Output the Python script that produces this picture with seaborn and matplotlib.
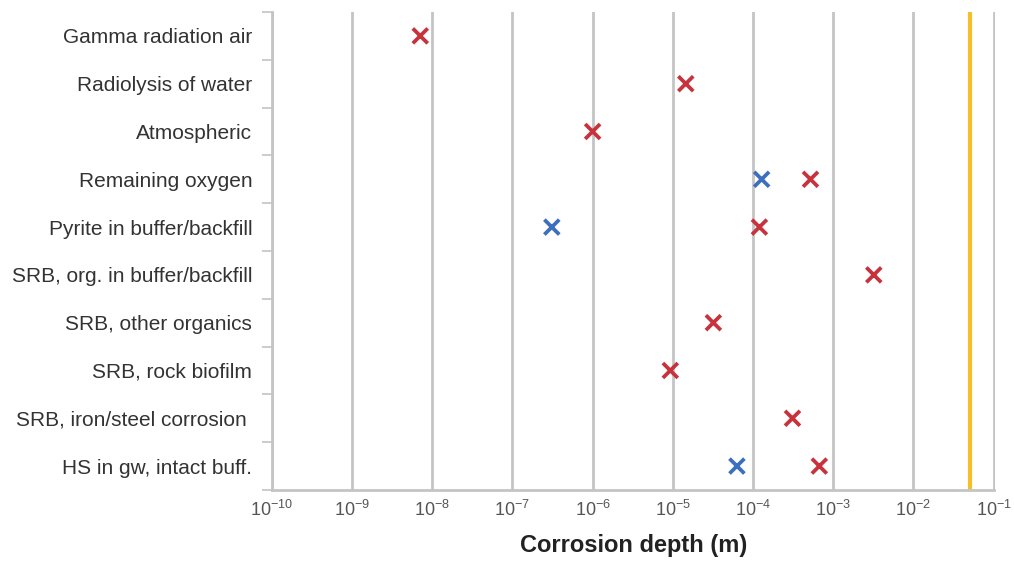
import numpy as np
import pandas as pd
import matplotlib
matplotlib.use('Agg')
import matplotlib.pyplot as plt
import seaborn as sns
from matplotlib.ticker import FixedLocator, NullFormatter

sns.set_style('white')
plt.rcParams['font.family'] = ['Liberation Sans', 'DejaVu Sans']
plt.rcParams['mathtext.fontset'] = 'custom'
plt.rcParams['mathtext.rm'] = 'Liberation Sans'

# ========================================
# 데이터
# ========================================
categories = [
    'Gamma radiation air',
    'Radiolysis of water',
    'Atmospheric',
    'Remaining oxygen',
    'Pyrite in buffer/backfill',
    'SRB, org. in buffer/backfill',
    'SRB, other organics',
    'SRB, rock biofilm',
    'SRB, iron/steel corrosion ',
    'HS in gw, intact buff.',
]
# 빨간 X (upper estimate)
red_values = [7.1e-9, 1.45e-5, 1.0e-6, 5.2e-4, 1.2e-4, 3.2e-3, 3.2e-5, 9.3e-6, 3.1e-4, 6.7e-4]
# 파란 X (lower estimate) - 일부 항목만
blue_cats = ['Remaining oxygen', 'Pyrite in buffer/backfill', 'HS in gw, intact buff.']
blue_values = [1.28e-4, 3.1e-7, 6.3e-5]
limit_depth = 0.05
decades = list(range(-10, 0))

RED = '#c8323c'
BLUE = '#3d6fbf'
YELLOW = '#f5bf2a'
GRID = '#c4c4c4'

df = pd.concat([
    pd.DataFrame({'cat': categories, 'depth': red_values, 'kind': 'red'}),
    pd.DataFrame({'cat': blue_cats, 'depth': blue_values, 'kind': 'blue'}),
])
df['pos'] = df['cat'].map({c: i for i, c in enumerate(categories)})

fig = plt.figure(figsize=(10.14, 5.63), dpi=100)
ax = fig.add_axes([0.268, 0.1297, 0.713, 0.849])

ax.set_xscale('log')
ax.set_xlim(1e-10, 1.03e-1)
ax.set_ylim(len(categories) - 0.5, -0.5)

# 세로 격자선
for k in decades:
    ax.axvline(10.0 ** k, color=GRID, lw=2, zorder=1)

ax.axvline(limit_depth, color=YELLOW, lw=3, zorder=2)

sns.scatterplot(data=df, x='depth', y='pos', hue='kind',
                palette={'red': RED, 'blue': BLUE}, marker='x',
                s=115, linewidth=2.7, legend=False, ax=ax, zorder=3)

ax.xaxis.set_minor_locator(FixedLocator([]))
ax.set_xticks([10.0 ** k for k in decades])
ax.set_xticklabels([f'$10^{{{k}}}$' for k in decades], color='#555555', fontsize=13)

ax.yaxis.set_major_locator(FixedLocator(range(len(categories))))
ax.set_yticklabels(categories, fontsize=15, color='#333333')
ax.yaxis.set_minor_locator(FixedLocator(np.arange(-0.5, len(categories), 1.0)))
ax.yaxis.set_minor_formatter(NullFormatter())
ax.tick_params(axis='y', which='major', length=0, pad=14)
ax.tick_params(axis='y', which='minor', length=7, width=1.2, color=GRID, left=True)
ax.tick_params(axis='x', which='major', length=0, pad=7)

ax.set_xlabel('Corrosion depth (m)', fontsize=17, weight='bold', color='#222222', labelpad=10)
ax.set_ylabel('')

for side in ['top', 'right']:
    ax.spines[side].set_visible(False)
for side in ['left', 'bottom']:
    ax.spines[side].set_color(GRID)
    ax.spines[side].set_linewidth(2)
ax.spines['bottom'].set_bounds(1e-10, 1e-1)

plt.savefig('out.png', dpi=100)
plt.close()
